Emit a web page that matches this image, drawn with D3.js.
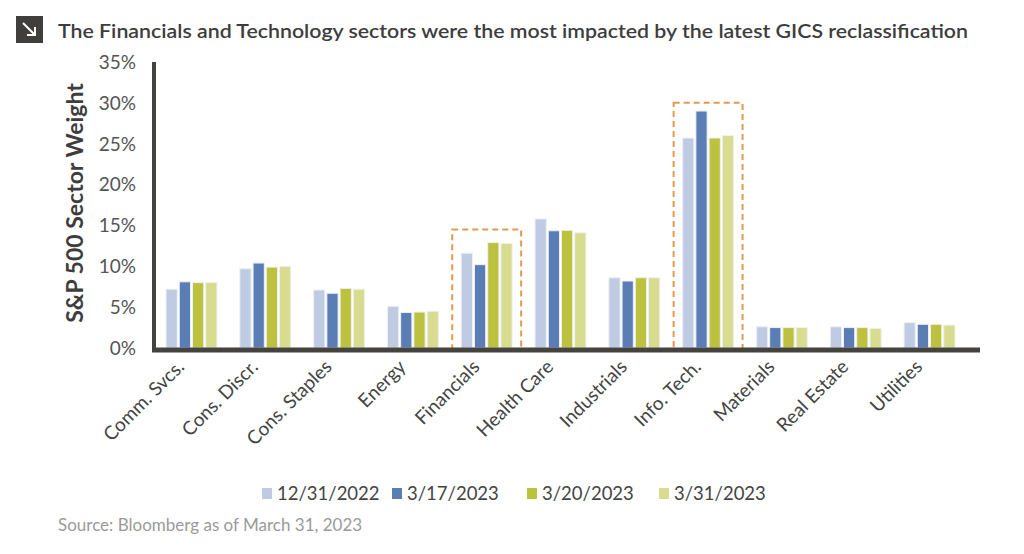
<!DOCTYPE html>
<html>
<head>
<meta charset="utf-8">
<script src="https://cdn.jsdelivr.net/npm/d3@7"></script>
<style>
  body { margin: 0; background: #fff; }
  svg { display: block; font-family: Lato, "Open Sans", sans-serif; }
</style>
</head>
<body>
<svg id="chart" width="1024" height="554"></svg>
<script>
// data
const sectors = ["Comm. Svcs.", "Cons. Discr.", "Cons. Staples", "Energy", "Financials",
  "Health Care", "Industrials", "Info. Tech.", "Materials", "Real Estate", "Utilities"];
const dates = ["12/31/2022", "3/17/2023", "3/20/2023", "3/31/2023"];
const w20221231 = [7.2, 9.7, 7.1, 5.1, 11.6, 15.8, 8.6, 25.7, 2.6, 2.6, 3.1];
const w20230317 = [8.1, 10.4, 6.7, 4.35, 10.2, 14.35, 8.2, 29.0, 2.5, 2.5, 2.9];
const w20230320 = [8.0, 9.9, 7.3, 4.4, 12.9, 14.4, 8.6, 25.7, 2.5, 2.5, 2.9];
const w20230331 = [8.0, 10.0, 7.2, 4.5, 12.8, 14.1, 8.6, 26.0, 2.5, 2.4, 2.8];
const series = [w20221231, w20230317, w20230320, w20230331];
const yTicks = [0, 5, 10, 15, 20, 25, 30, 35];
// highlighted sectors and the top of their dashed boxes
const highlighted = ["Financials", "Info. Tech."];
const highlightTop = [14.5, 30.0];

const colors = ["#bfcbe2", "#5b7db6", "#bdc23e", "#d8dc8e"];

const svg = d3.select("#chart");

const margin = { left: 154, right: 46, top: 62, bottom: 206 };
const width = 1024 - margin.left - margin.right;
const height = 554 - margin.top - margin.bottom;

const g = svg.append("g")
  .attr("transform", `translate(${margin.left},${margin.top})`);

const x0 = d3.scaleBand()
  .domain(sectors)
  .range([0, 813])
  .paddingInner(0.31)
  .paddingOuter(0.163);

const x1 = d3.scaleBand()
  .domain(d3.range(dates.length))
  .range([0, x0.bandwidth()])
  .paddingInner(0.15);

const y = d3.scaleLinear()
  .domain([0, 35])
  .range([height, 0]);

// title
svg.append("rect")
  .attr("x", 16).attr("y", 16)
  .attr("width", 27).attr("height", 27)
  .attr("fill", "#403f3b");
svg.append("path")
  .attr("d", "M23,23 L35,35 M35,27 L35,35 L27,35")
  .attr("stroke", "#fff")
  .attr("stroke-width", 2)
  .attr("fill", "none");
svg.append("text")
  .attr("x", 58).attr("y", 38)
  .attr("font-size", 19)
  .attr("font-weight", 600)
  .attr("fill", "#3d3d3d")
  .attr("textLength", 910)
  .attr("lengthAdjust", "spacingAndGlyphs")
  .text("The Financials and Technology sectors were the most impacted by the latest GICS reclassification");

// y-axis tick labels
g.append("g")
  .selectAll("text")
  .data(yTicks)
  .enter()
  .append("text")
  .attr("x", -18)
  .attr("y", d => y(d))
  .attr("dy", "0.36em")
  .attr("text-anchor", "end")
  .attr("font-size", 19)
  .attr("fill", "#555")
  .text(d => d + "%");

// y label
svg.append("text")
  .attr("transform", "translate(83,203) rotate(-90)")
  .attr("text-anchor", "middle")
  .attr("font-size", 23)
  .attr("font-weight", 700)
  .attr("fill", "#3d3d3d")
  .text("S&P 500 Sector Weight");

// bars
const groups = g.append("g")
  .selectAll("g")
  .data(sectors)
  .enter()
  .append("g")
  .attr("transform", d => `translate(${x0(d)},0)`);

groups.selectAll("rect")
  .data((d, i) => series.map((s, k) => ({ k: k, v: s[i] })))
  .enter()
  .append("rect")
  .attr("x", d => x1(d.k))
  .attr("y", d => y(d.v))
  .attr("width", x1.bandwidth())
  .attr("height", d => height - y(d.v))
  .attr("fill", d => colors[d.k])
  .attr("stroke", "#eef0f5")
  .attr("stroke-width", 1);

// dashed highlight boxes
highlighted.forEach((s, i) => {
  const pad = 9;
  g.append("rect")
    .attr("x", x0(s) - pad)
    .attr("y", y(highlightTop[i]))
    .attr("width", x0.bandwidth() + pad * 2)
    .attr("height", height - y(highlightTop[i]) + 3)
    .attr("fill", "none")
    .attr("stroke", "#e39a4c")
    .attr("stroke-width", 2)
    .attr("stroke-dasharray", "6,4");
});

// axes lines
g.append("line")
  .attr("x1", 0).attr("x2", 0)
  .attr("y1", 0).attr("y2", height + 4)
  .attr("stroke", "#45433e")
  .attr("stroke-width", 4);
g.append("line")
  .attr("x1", -2).attr("x2", width + 2)
  .attr("y1", height + 2).attr("y2", height + 2)
  .attr("stroke", "#45433e")
  .attr("stroke-width", 5);

// x labels
g.append("g")
  .selectAll("text")
  .data(sectors)
  .enter()
  .append("text")
  .attr("transform", d => `translate(${x0(d) + x0.bandwidth() / 2 - 6},${height + 20}) rotate(-45)`)
  .attr("text-anchor", "end")
  .attr("font-size", 19)
  .attr("fill", "#444")
  .text(d => d);

// legend
const legendX = [262, 392, 527, 659];
const legend = svg.append("g");
dates.forEach((d, i) => {
  legend.append("rect")
    .attr("x", legendX[i]).attr("y", 488)
    .attr("width", 10).attr("height", 11)
    .attr("fill", colors[i]);
  legend.append("text")
    .attr("x", legendX[i] + 15).attr("y", 500)
    .attr("font-size", 18.5)
    .attr("fill", "#444")
    .text(d);
});

// source
svg.append("text")
  .attr("x", 58).attr("y", 531)
  .attr("font-size", 17)
  .attr("fill", "#9a9a9a")
  .text("Source: Bloomberg as of March 31, 2023");
</script>
</body>
</html>
